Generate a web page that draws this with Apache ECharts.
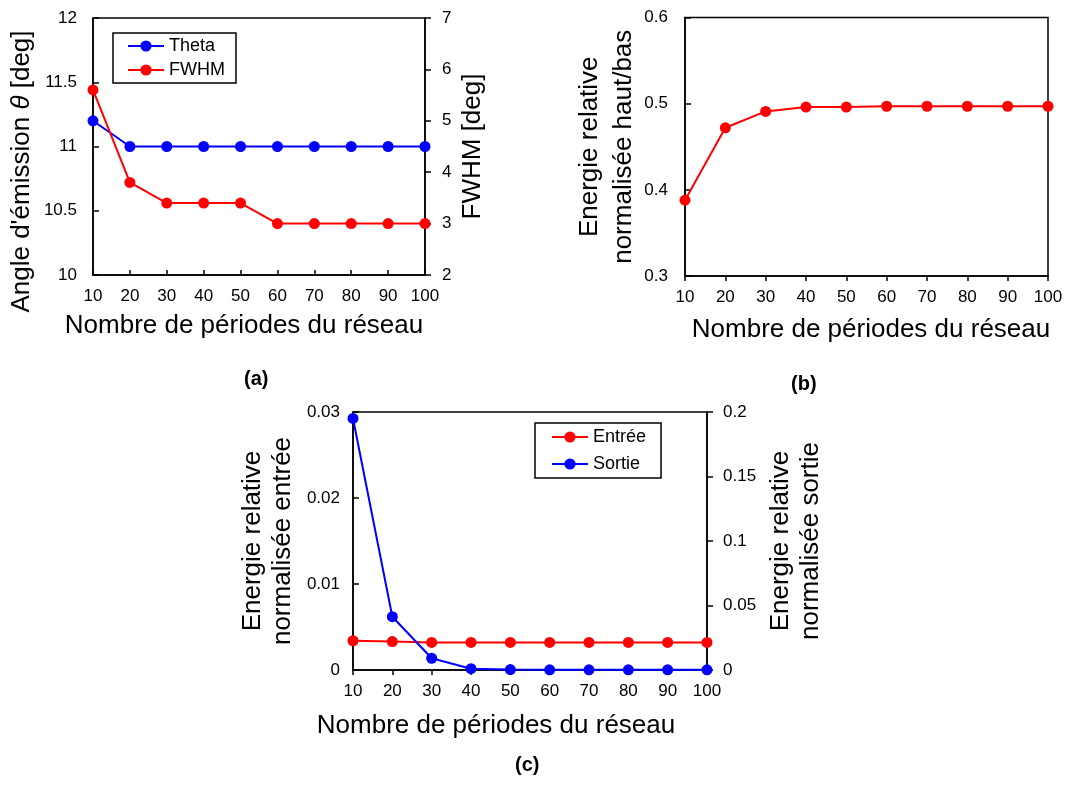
<!DOCTYPE html>
<html>
<head>
<meta charset="utf-8">
<script src="https://cdn.jsdelivr.net/npm/echarts@6/dist/echarts.min.js"></script>
<style>
  html, body { margin: 0; padding: 0; background: #fff; }
  #chart { width: 1067px; height: 785px; }
</style>
</head>
<body>
<div id="chart"></div>
<script>
// ---- Data ----
const categories = ['10', '20', '30', '40', '50', '60', '70', '80', '90', '100'];
// (a)
const thetaValues = [11.2, 11.0, 11.0, 11.0, 11.0, 11.0, 11.0, 11.0, 11.0, 11.0];
const fwhmValues = [5.6, 3.8, 3.4, 3.4, 3.4, 3.0, 3.0, 3.0, 3.0, 3.0];
// (b)
const hautBasValues = [0.388, 0.472, 0.491, 0.496, 0.496, 0.497, 0.497, 0.497, 0.497, 0.497];
// (c)
const entreeValues = [0.0034, 0.0033, 0.0032, 0.0032, 0.0032, 0.0032, 0.0032, 0.0032, 0.0032, 0.0032];
const sortieValues = [0.195, 0.0413, 0.0091, 0.0010, 0.0003, 0.0001, 0.0001, 0.0001, 0.0001, 0.0001];

const xName = 'Nombre de périodes du réseau';
const FONT = "'Liberation Sans', Arial, sans-serif";
const BLACK = '#000';
const RED = '#ff0000';
const BLUE = '#0000ff';

function xAxisOf(grid, inside, namePad, nameGap) {
  return {
    type: 'category', gridIndex: grid, data: categories, boundaryGap: false,
    axisLine: { lineStyle: { color: BLACK, width: 1.5 } },
    axisTick: { inside: inside, length: 5, interval: 0, lineStyle: { color: BLACK, width: 1.5 } },
    axisLabel: { interval: 0, margin: 13, fontSize: 17, color: BLACK, fontFamily: FONT },
    splitLine: { show: false },
    name: xName, nameLocation: 'middle', nameGap: nameGap,
    nameTextStyle: { fontSize: 26, color: BLACK, fontFamily: FONT, padding: namePad }
  };
}
function yAxisOf(grid, pos, min, max, interval, inside, margin, name, nameGap, extraName) {
  return Object.assign({
    type: 'value', gridIndex: grid, position: pos, min: min, max: max, interval: interval,
    axisLine: { show: true, lineStyle: { color: BLACK, width: 1.5 } },
    axisTick: { show: true, inside: inside, length: 6, lineStyle: { color: BLACK, width: 1.5 } },
    axisLabel: { margin: margin, fontSize: 17, color: BLACK, fontFamily: FONT },
    splitLine: { show: false },
    name: name, nameLocation: 'middle', nameGap: nameGap, nameRotate: 90,
    nameTextStyle: { fontSize: 26, color: BLACK, fontFamily: FONT }
  }, extraName || {});
}
function lineSeries(name, xi, yi, data, color) {
  return {
    name: name, type: 'line', xAxisIndex: xi, yAxisIndex: yi, data: data,
    symbol: 'circle', symbolSize: 11, showSymbol: true,
    lineStyle: { color: color, width: 2 }, itemStyle: { color: color },
    emphasis: { disabled: true }
  };
}

const chart = echarts.init(document.getElementById('chart'), null, { renderer: 'canvas' });

const option = {
  animation: false,
  backgroundColor: '#fff',
  textStyle: { fontFamily: FONT },
  grid: [
    { left: 93, top: 18, width: 332, height: 257, show: true, borderColor: BLACK, borderWidth: 1.5 },
    { left: 685, top: 17.5, width: 363, height: 258.5, show: true, borderColor: BLACK, borderWidth: 1.5 },
    { left: 353, top: 412, width: 354, height: 258, show: true, borderColor: BLACK, borderWidth: 1.5 }
  ],
  xAxis: [
    xAxisOf(0, true, [0, 30, 0, 0], 38),
    xAxisOf(1, false, [0, 0, 0, 9], 41),
    xAxisOf(2, false, [0, 68, 0, 0], 43)
  ],
  yAxis: [
    // (a) left
    yAxisOf(0, 'left', 10, 12, 0.5, true, 16, "Angle d'émission {t|θ} [deg]", 58, {
      nameTextStyle: { fontSize: 26, color: BLACK, fontFamily: FONT, padding: [0, 50, 0, 0],
        rich: { t: { fontSize: 26, fontStyle: 'italic', color: BLACK, fontFamily: FONT } } }
    }),
    // (a) right
    yAxisOf(0, 'right', 2, 7, 1, false, 17, 'FWHM [deg]', 35),
    // (b) left
    yAxisOf(1, 'left', 0.3, 0.6, 0.1, true, 17, 'Energie relative\nnormalisée haut/bas', 39, {
      nameTextStyle: { fontSize: 26, color: BLACK, fontFamily: FONT, lineHeight: 34 }
    }),
    // (c) left
    yAxisOf(2, 'left', 0, 0.03, 0.01, true, 13, 'Energie relative\nnormalisée entrée', 55, {
      nameTextStyle: { fontSize: 26, color: BLACK, fontFamily: FONT, lineHeight: 30 }
    }),
    // (c) right
    yAxisOf(2, 'right', 0, 0.2, 0.05, false, 16, 'Energie relative\nnormalisée sortie', 59, {
      nameTextStyle: { fontSize: 26, color: BLACK, fontFamily: FONT, lineHeight: 30 }
    })
  ],
  legend: [
    {
      data: ['Theta', 'FWHM'], orient: 'vertical', left: 113, top: 33,
      borderColor: BLACK, borderWidth: 1.5, padding: [4, 11, 4, 14],
      itemWidth: 36, itemHeight: 14, itemGap: 6,
      textStyle: { fontSize: 18, color: BLACK, fontFamily: FONT },
      selectedMode: false
    },
    {
      data: ['Entrée', 'Sortie'], orient: 'vertical', left: 535, top: 423,
      borderColor: BLACK, borderWidth: 1.5, padding: [5, 15, 5, 16],
      itemWidth: 36, itemHeight: 14, itemGap: 9,
      textStyle: { fontSize: 18, color: BLACK, fontFamily: FONT },
      selectedMode: false
    }
  ],
  series: [
    lineSeries('Theta', 0, 0, thetaValues, BLUE),
    lineSeries('FWHM', 0, 1, fwhmValues, RED),
    lineSeries('Haut/bas', 1, 2, hautBasValues, RED),
    lineSeries('Entrée', 2, 3, entreeValues, RED),
    lineSeries('Sortie', 2, 4, sortieValues, BLUE)
  ],
  graphic: [
    { type: 'text', left: 244, top: 369, style: { text: '(a)', font: "bold 20px 'Liberation Sans', Arial", fill: BLACK } },
    { type: 'text', left: 791, top: 374, style: { text: '(b)', font: "bold 20px 'Liberation Sans', Arial", fill: BLACK } },
    { type: 'text', left: 515, top: 755, style: { text: '(c)', font: "bold 20px 'Liberation Sans', Arial", fill: BLACK } }
  ]
};
chart.setOption(option);
</script>
</body>
</html>
